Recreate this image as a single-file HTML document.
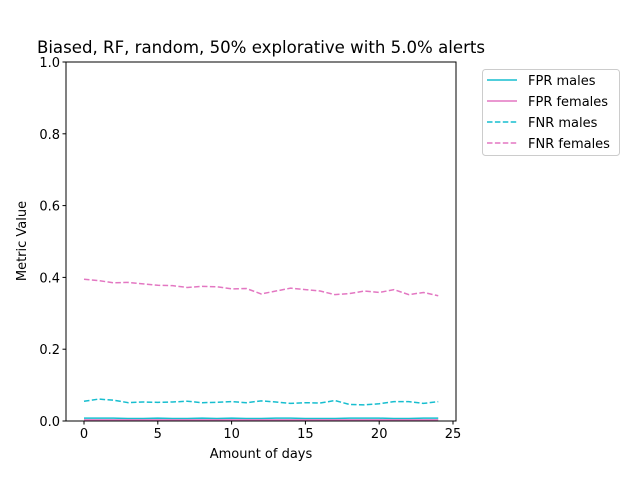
<!DOCTYPE html>
<html><head><meta charset="utf-8"><style>
body{margin:0;background:#fff}
svg{font-family:"DejaVu Sans","Liberation Sans",sans-serif}
</style></head><body>
<svg id="chart" width="640" height="480" xmlns="http://www.w3.org/2000/svg">
<rect width="640" height="480" fill="#fff"/>
<g id="plot"></g>
</svg>
<script>
const days = [0,1,2,3,4,5,6,7,8,9,10,11,12,13,14,15,16,17,18,19,20,21,22,23,24];
const fprMales = [0.008,0.008,0.008,0.007,0.007,0.008,0.007,0.007,0.008,0.007,0.008,0.007,0.007,0.008,0.008,0.007,0.007,0.007,0.008,0.008,0.008,0.007,0.007,0.008,0.008];
const fprFemales = [0.003,0.003,0.003,0.003,0.003,0.003,0.003,0.003,0.003,0.003,0.003,0.003,0.003,0.003,0.003,0.003,0.003,0.003,0.003,0.003,0.003,0.003,0.003,0.003,0.003];
const fnrMales = [0.055,0.061,0.058,0.051,0.053,0.052,0.053,0.055,0.051,0.052,0.054,0.051,0.056,0.053,0.049,0.051,0.050,0.057,0.046,0.045,0.048,0.054,0.054,0.049,0.054];
const fnrFemales = [0.395,0.391,0.385,0.386,0.382,0.378,0.377,0.372,0.375,0.374,0.368,0.369,0.354,0.362,0.370,0.366,0.362,0.352,0.355,0.362,0.358,0.366,0.352,0.358,0.349];
const xTicks = [0,5,10,15,20,25];
const yTicks = [0.0,0.2,0.4,0.6,0.8,1.0];
const seriesNames = ["FPR males","FPR females","FNR males","FNR females"];

const NS="http://www.w3.org/2000/svg";
const L=66,R=456,T=62,B=421;
const xs=d=>84+(d-0)*(453-84)/25;
const ys=v=>B-v*(B-T);
const g=document.getElementById('plot');
function mk(tag,attrs,parent){const e=document.createElementNS(NS,tag);for(const k in attrs)e.setAttribute(k,attrs[k]);(parent||g).appendChild(e);return e;}

const title=mk('text',{x:261,y:53,'text-anchor':'middle','font-size':16.6,fill:'#000'});
title.textContent="Biased, RF, random, 50% explorative with 5.0% alerts";



const series=[
 {v:fprMales,c:'#17becf',dash:null,n:'fpr-males-line'},
 {v:fprFemales,c:'#e377c2',dash:null,n:'fpr-females-line'},
 {v:fnrMales,c:'#17becf',dash:'5.5,2.4',n:'fnr-males-line'},
 {v:fnrFemales,c:'#e377c2',dash:'5.5,2.4',n:'fnr-females-line'}];
series.forEach(s=>{
 const p=mk('polyline',{points:days.map((d,i)=>xs(d)+','+ys(s.v[i])).join(' '),fill:'none',stroke:s.c,'stroke-width':1.5});
 if(s.dash)p.setAttribute('stroke-dasharray',s.dash);
 
 
});

const frame=mk('rect',{x:L,y:T,width:R-L,height:B-T,fill:'none',stroke:'#000','stroke-width':1});



xTicks.forEach(t=>{
 const x=xs(t);
 const tk=mk('line',{x1:x,x2:x,y1:B,y2:B+3.5,stroke:'#000'});
 
 
 const tx=mk('text',{x:x,y:B+17,'text-anchor':'middle','font-size':13,fill:'#000'});
 tx.textContent=t;
 
 
});
yTicks.forEach(t=>{
 const y=ys(t);
 const tk=mk('line',{x1:L-3.5,x2:L,y1:y,y2:y,stroke:'#000'});
 
 
 const tx=mk('text',{x:L-6,y:y+5,'text-anchor':'end','font-size':13,fill:'#000'});
 tx.textContent=t.toFixed(1);
 
 
});
const xl=mk('text',{x:261,y:458,'text-anchor':'middle','font-size':13,fill:'#000'});
xl.textContent="Amount of days";


const yl=mk('text',{x:0,y:0,'text-anchor':'middle','font-size':13,fill:'#000',transform:'translate(26,241) rotate(-90)'});
yl.textContent="Metric Value";



const lg=mk('g',{});


mk('rect',{x:482.5,y:69.5,width:137,height:86,rx:3,fill:'#fff',stroke:'#ccc'},lg);
series.forEach((s,i)=>{
 const y=80+i*21;
 const ln=mk('line',{x1:487,x2:517,y1:y,y2:y,stroke:s.c,'stroke-width':1.5},lg);
 if(s.dash)ln.setAttribute('stroke-dasharray',s.dash);
 
 
 const t=mk('text',{x:528,y:y+5,'font-size':13,fill:'#000'},lg);
 t.textContent=seriesNames[i];
 
 
});
</script>
</body></html>
